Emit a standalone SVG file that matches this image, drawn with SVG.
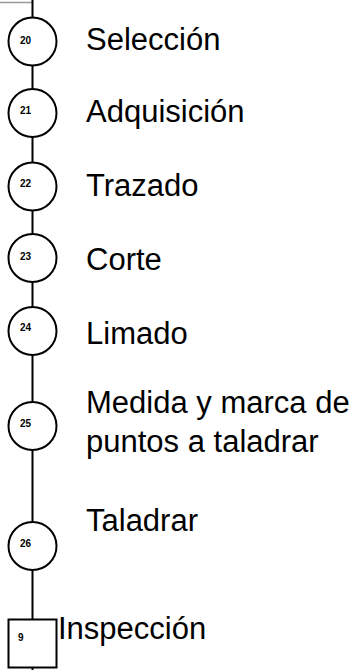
<svg xmlns="http://www.w3.org/2000/svg" width="360" height="670" viewBox="0 0 360 670">
<style>
.node{fill:#fff;stroke:#000;stroke-width:2}
.num{font-family:"Liberation Sans",Arial,sans-serif;font-size:10px;font-weight:bold;fill:#000}
.lbl{font-family:"Liberation Sans",Arial,sans-serif;font-size:31px;fill:#000}
.conn{stroke:#000;stroke-width:2;fill:none}
</style>
<rect width="360" height="670" fill="#fff"/>
<g id="connectors">
<line x1="0" y1="2.5" x2="32" y2="2.5" stroke="#999" stroke-width="1.5"/>
<line class="conn" x1="32.5" y1="0" x2="32.5" y2="670"/>
</g>
<g id="n20"><circle class="node" cx="32.5" cy="41.5" r="24"/><text class="num" x="20" y="44">20</text><text class="lbl" x="86" y="49.5">Selección</text></g>
<g id="n21"><circle class="node" cx="32.5" cy="113" r="24"/><text class="num" x="20" y="114">21</text><text class="lbl" x="86" y="122">Adquisición</text></g>
<g id="n22"><circle class="node" cx="32.5" cy="186.5" r="24"/><text class="num" x="20" y="187">22</text><text class="lbl" x="86" y="195.5">Trazado</text></g>
<g id="n23"><circle class="node" cx="32.5" cy="258" r="24"/><text class="num" x="20" y="260">23</text><text class="lbl" x="86" y="269.5">Corte</text></g>
<g id="n24"><circle class="node" cx="32.5" cy="331" r="24"/><text class="num" x="20" y="331">24</text><text class="lbl" x="86" y="343.5">Limado</text></g>
<g id="n25"><circle class="node" cx="32.5" cy="426" r="24"/><text class="num" x="20" y="427">25</text><text class="lbl" x="86" y="413">Medida y marca de</text><text class="lbl" x="86" y="452">puntos a taladrar</text></g>
<g id="n26"><circle class="node" cx="32.5" cy="546" r="24"/><text class="num" x="20" y="547">26</text><text class="lbl" x="86" y="530.5">Taladrar</text></g>
<g id="n9"><rect class="node" x="8.5" y="619.5" width="48" height="48"/><text class="num" x="18" y="641">9</text><text class="lbl" x="58" y="638.5">Inspección</text></g>
</svg>
